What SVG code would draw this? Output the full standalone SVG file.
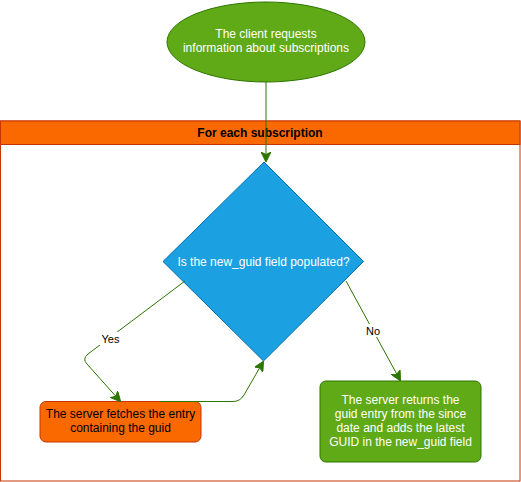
<svg xmlns="http://www.w3.org/2000/svg" width="521" height="482" viewBox="0 0 521 482">
<style>
text{font-family:"Liberation Sans",Arial,sans-serif;font-size:12px;text-anchor:middle}
.w{fill:#ffffff}
.k{fill:#000000}
.edge{fill:none;stroke:#2D7600;stroke-width:1}
.lbl{fill:#000000;font-size:11px}
</style>
<defs>
<marker id="arr" viewBox="0 0 10 10" refX="9" refY="5" markerWidth="10" markerHeight="10" markerUnits="userSpaceOnUse" orient="auto">
<path d="M0,0 L10,5 L0,10 L2.5,5 Z" fill="#2D7600" stroke="#2D7600"/>
</marker>
</defs>
<rect width="521" height="482" fill="#ffffff"/>
<g id="container">
<rect x="0.5" y="121" width="519.5" height="360" fill="#ffffff" stroke="#C73500"/>
<rect x="0.5" y="121" width="519.5" height="23.5" fill="#FA6800" stroke="#C73500"/>
<text x="260" y="137" class="k" font-weight="bold">For each subscription</text>
</g>
<g id="start">
<ellipse cx="266" cy="42" rx="99" ry="40" fill="#60A917" stroke="#2D7600"/>
<text x="266" y="38" class="w">The client requests</text>
<text x="266" y="52" class="w">information about subscriptions</text>
</g>
<g id="decision">
<polygon points="264,162 363.5,261.5 263.5,361 163,261.5" fill="#1BA1E2" stroke="#006EAF"/>
<text x="263.5" y="266" class="w">Is the new_guid field populated?</text>
</g>
<g id="fetch">
<rect x="40" y="401.5" width="161" height="40.5" rx="6" ry="6" fill="#FA6800" stroke="#C73500"/>
<text x="120.5" y="418" class="k">The server fetches the entry</text>
<text x="120.5" y="432" class="k">containing the guid</text>
</g>
<g id="returns">
<rect x="320" y="381" width="161" height="81" rx="6" ry="6" fill="#60A917" stroke="#2D7600"/>
<text x="400.5" y="404" class="w">The server returns the</text>
<text x="400.5" y="418" class="w">guid entry from the since</text>
<text x="400.5" y="432" class="w">date and adds the latest</text>
<text x="400.5" y="446" class="w">GUID in the new_guid field</text>
</g>
<g id="connectors">
<path class="edge" d="M266,82 L266,161" marker-end="url(#arr)"/>
<path class="edge" d="M185,281 L88,354 Q82,359 87,364 L120,401" marker-end="url(#arr)"/>
<path class="edge" d="M160,401.5 L233,401.5 Q240,401.5 244,395 L263,362" marker-end="url(#arr)"/>
<path class="edge" d="M346,281 L400,380" marker-end="url(#arr)"/>
<rect x="99" y="332" width="23" height="13" fill="#ffffff"/>
<text x="110.5" y="343" class="lbl">Yes</text>
<rect x="364" y="324" width="18" height="13" fill="#ffffff"/>
<text x="373" y="335" class="lbl">No</text>
</g>
</svg>
